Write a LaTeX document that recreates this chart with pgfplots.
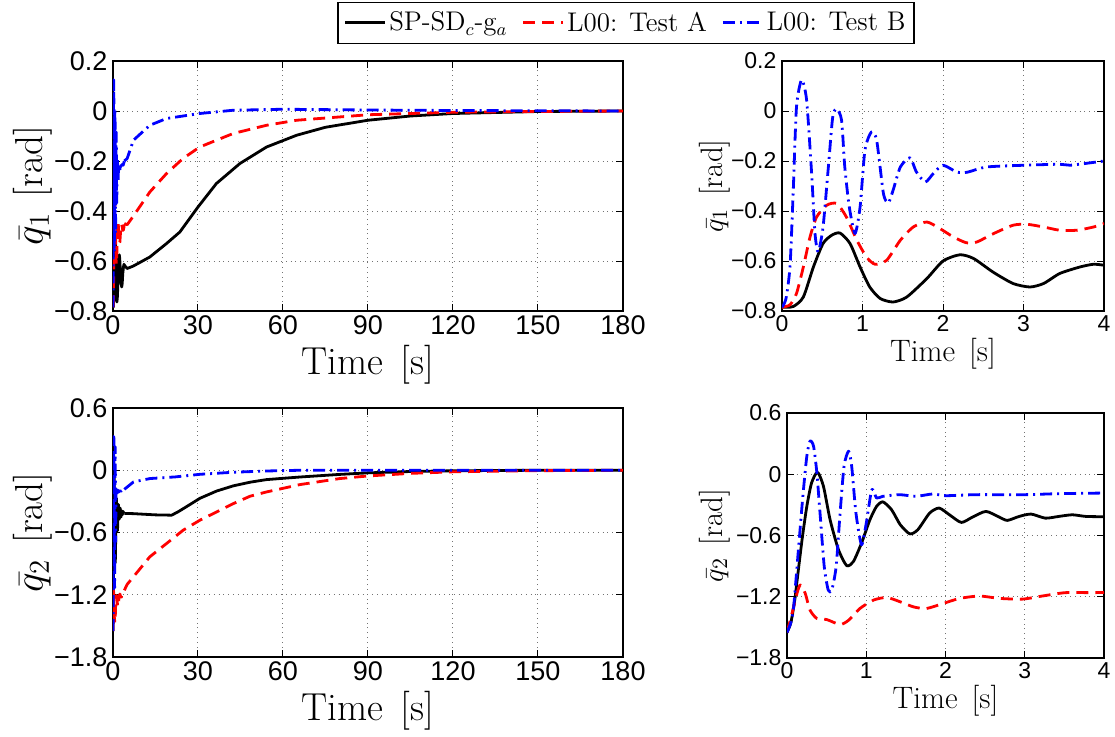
\documentclass[border=0pt]{standalone}
\usepackage{fontspec}
\usepackage{pgfplots}
\pgfplotsset{compat=1.18}
\usepackage{pgfplotstable}
\newfontfamily\arial{Liberation Sans}

% ---------- data: right panels (0-4 s) ----------
\pgfplotstableread{
t v
0 -0.785
0.14 -0.782
0.265 -0.744
0.39 -0.624
0.51 -0.53
0.617 -0.497
0.72 -0.488
0.845 -0.53
0.97 -0.624
1.09 -0.704
1.22 -0.75
1.38 -0.764
1.55 -0.744
1.8 -0.67
2.0 -0.6
2.21 -0.575
2.38 -0.59
2.62 -0.644
2.87 -0.69
3.08 -0.704
3.25 -0.69
3.45 -0.65
3.7 -0.624
3.87 -0.613
4.0 -0.617
}\qAk
\pgfplotstableread{
t v
0 -0.785
0.1 -0.775
0.18 -0.73
0.265 -0.624
0.348 -0.504
0.43 -0.424
0.555 -0.377
0.68 -0.37
0.8 -0.424
0.93 -0.517
1.05 -0.584
1.155 -0.613
1.3 -0.597
1.47 -0.517
1.63 -0.464
1.8 -0.444
1.96 -0.47
2.13 -0.504
2.29 -0.527
2.42 -0.524
2.63 -0.49
2.87 -0.457
3.04 -0.453
3.25 -0.464
3.45 -0.477
3.66 -0.477
3.87 -0.464
4.0 -0.45
}\qAr
\pgfplotstableread{
t v
0 -0.785
0.05 -0.75
0.1 -0.62
0.14 -0.317
0.18 0.016
0.244 0.125
0.306 0.043
0.368 -0.25
0.41 -0.49
0.45 -0.564
0.51 -0.464
0.576 -0.224
0.63 -0.024
0.68 0.009
0.74 -0.037
0.78 -0.224
0.836 -0.384
0.907 -0.49
0.97 -0.384
1.03 -0.157
1.11 -0.084
1.176 -0.117
1.26 -0.33
1.32 -0.368
1.38 -0.317
1.47 -0.224
1.59 -0.187
1.67 -0.244
1.78 -0.284
1.88 -0.25
2.0 -0.217
2.17 -0.244
2.3 -0.245
2.54 -0.224
3.0 -0.217
3.45 -0.213
3.58 -0.217
4.0 -0.2
}\qAb
\pgfplotstableread{
t v
0 -1.55
0.05 -1.45
0.1 -1.22
0.126 -1.05
0.19 -0.64
0.25 -0.315
0.31 -0.085
0.385 0.02
0.46 -0.118
0.544 -0.446
0.65 -0.74
0.753 -0.895
0.837 -0.856
0.94 -0.675
1.046 -0.446
1.13 -0.315
1.21 -0.27
1.32 -0.348
1.43 -0.495
1.55 -0.584
1.65 -0.544
1.8 -0.38
1.92 -0.331
2.05 -0.397
2.2 -0.472
2.34 -0.42
2.51 -0.364
2.68 -0.42
2.78 -0.452
2.93 -0.413
3.08 -0.39
3.26 -0.43
3.43 -0.413
3.6 -0.397
3.77 -0.413
4.0 -0.416
}\qBk
\pgfplotstableread{
t v
0 -1.55
0.063 -1.364
0.126 -1.167
0.168 -1.085
0.23 -1.167
0.29 -1.33
0.377 -1.413
0.5 -1.423
0.67 -1.472
0.777 -1.43
0.92 -1.315
1.09 -1.233
1.26 -1.207
1.43 -1.25
1.6 -1.3
1.76 -1.315
1.97 -1.266
2.18 -1.216
2.43 -1.193
2.68 -1.216
2.97 -1.223
3.22 -1.193
3.51 -1.16
3.85 -1.16
4.0 -1.157
}\qBr
\pgfplotstableread{
t v
0 -1.55
0.05 -1.45
0.084 -1.3
0.147 -0.71
0.2 -0.216
0.25 0.177
0.29 0.325
0.335 0.275
0.377 0.013
0.42 -0.413
0.47 -0.905
0.52 -1.134
0.565 -1.134
0.62 -0.905
0.67 -0.38
0.72 0.08
0.777 0.226
0.816 0.08
0.87 -0.38
0.94 -0.69
1.0 -0.48
1.07 -0.15
1.13 -0.233
1.21 -0.216
1.42 -0.2
1.63 -0.216
1.84 -0.193
2.0 -0.21
2.38 -0.2
3.0 -0.2
3.43 -0.19
4.0 -0.184
}\qBb

% ---------- data: left panels, slow part (t > 4 s) ----------
\pgfplotstableread{
t v
4.0 -0.617
5 -0.63
7.2 -0.62
13 -0.584
18.9 -0.53
23.6 -0.484
30 -0.384
36.5 -0.29
44.8 -0.21
54.2 -0.144
64.8 -0.097
75 -0.065
90 -0.037
105 -0.02
120 -0.01
150 -0.002
180 0
}\lAk
\pgfplotstableread{
t v
4.0 -0.45
5 -0.455
7.2 -0.42
13 -0.324
18.9 -0.25
24.7 -0.19
30.6 -0.144
42.4 -0.09
54.2 -0.057
64.8 -0.037
90 -0.015
120 -0.005
150 -0.002
180 0
}\lAr
\pgfplotstableread{
t v
4.0 -0.2
5 -0.19
7.2 -0.117
13 -0.057
18.9 -0.03
30.6 -0.01
42.4 0.003
60 0.007
90 0.004
120 0.002
180 0
}\lAb
\pgfplotstableread{
t v
4.0 -0.416
7 -0.418
15 -0.43
20.7 -0.433
23 -0.40
26 -0.35
30.7 -0.27
36.6 -0.2
42.5 -0.15
48.4 -0.115
54.2 -0.09
66 -0.065
80 -0.04
90 -0.025
105 -0.012
120 -0.005
150 0
180 0
}\lBk
\pgfplotstableread{
t v
4.0 -1.157
5 -1.10
7.2 -1.027
13 -0.834
18.9 -0.706
24.8 -0.577
30.7 -0.481
36.6 -0.401
42.5 -0.321
48.4 -0.25
54.2 -0.209
66 -0.138
80 -0.08
90 -0.055
105 -0.03
120 -0.015
150 -0.004
180 0
}\lBr
\pgfplotstableread{
t v
4.0 -0.184
7.2 -0.113
13 -0.08
22 -0.064
30.7 -0.039
42.5 -0.019
54.2 -0.007
66 0
180 0
}\lBb

\pgfplotsset{
  sblack/.style={black, line width=1.4pt, solid, line join=round},
  sred/.style={red, line width=1.4pt, dash pattern=on 6pt off 3.5pt, line join=round},
  sblue/.style={blue, line width=1.4pt, dash pattern=on 6pt off 2.5pt on 1pt off 2.5pt, line join=round},
  base/.style={
    scale only axis,
    axis line style={black, line width=0.6pt},
    every tick/.style={black, line width=0.5pt},
    major tick length=3.5pt,
    grid=major,
    major grid style={dotted, black!55, line width=0.5pt},
    /pgf/number format/assume math mode=true,
    xticklabel style={inner sep=2pt},
    yticklabel style={inner sep=2.6pt},
    xlabel style={at={(axis description cs:0.5,0)}, anchor=base, inner sep=0pt},
    ylabel style={anchor=center, inner sep=0pt},
  },
  leftax/.style={base,
    width=255pt, height=125pt,
    xmin=0, xmax=180,
    xtick={0,30,60,90,120,150,180},
    xticklabels={0,30,60,90,120,150,180},
    tick label style={font=\arial\fontsize{13.5}{15}\selectfont},
    label style={font=\fontsize{19.5}{22}\selectfont},
    xlabel={Time\hspace{0.45em}[s]},
  },
  rightax/.style={base,
    xmin=0, xmax=4,
    xtick={0,1,2,3,4},
    xticklabels={0,1,2,3,4},
    tick label style={font=\arial\fontsize{11.5}{13}\selectfont},
    label style={font=\fontsize{15.5}{18}\selectfont},
    xlabel={Time\hspace{0.45em}[s]},
  },
}

\begin{document}
\begin{tikzpicture}
\useasboundingbox (0pt,0pt) rectangle (557.5pt,368pt);

% ---- top left ----
\begin{axis}[leftax,
  at={(56.5pt,212.5pt)}, anchor=south west,
  ymin=-0.8, ymax=0.2,
  ytick={-0.8,-0.6,-0.4,-0.2,0,0.2},
  yticklabels={−0.8,−0.6,−0.4,−0.2,0,0.2},
  ylabel={$\bar{q}_1$\hspace{0.4em}[rad]},
  xlabel style={yshift=-31.5pt},
  ylabel style={at={(axis description cs:-0.157,0.5)}},
  legend columns=3,
  legend cell align=left,
  legend image code/.code={\draw[#1] (0pt,0pt) -- (20pt,0pt);},
  legend style={at={(1.0059,1.068)}, anchor=south, draw=black, line width=0.6pt,
    fill=white, font=\fontsize{13.5}{15}\selectfont,
    inner xsep=3pt, inner ysep=3.5pt,
    nodes={inner sep=1.2pt},
    /tikz/every even column/.append style={column sep=6pt}},
]
\addplot[sblack] table[x=t,y=v] {\qAk};
\addlegendentry{SP-SD$_c$-g$_a$}
\addplot[sred] table[x=t,y=v] {\qAr};
\addlegendentry{L00: Test A}
\addplot[sblue] table[x=t,y=v] {\qAb};
\addlegendentry{L00: Test B}
\addplot[sblack, forget plot] table[x=t,y=v] {\lAk};
\addplot[sred, forget plot] table[x=t,y=v] {\lAr};
\addplot[sblue, forget plot] table[x=t,y=v] {\lAb};
\end{axis}

% ---- top right ----
\begin{axis}[rightax,
  at={(391pt,212.5pt)}, anchor=south west,
  width=161pt, height=125pt,
  ymin=-0.8, ymax=0.2,
  ytick={-0.8,-0.6,-0.4,-0.2,0,0.2},
  yticklabels={−0.8,−0.6,−0.4,−0.2,0,0.2},
  ylabel={$\bar{q}_1$\hspace{0.4em}[rad]},
  xlabel style={yshift=-25pt},
  ylabel style={at={(axis description cs:-0.208,0.5)}},
]
\addplot[sblack, smooth, tension=0.4] table[x=t,y=v] {\qAk};
\addplot[sred, smooth, tension=0.4] table[x=t,y=v] {\qAr};
\addplot[sblue, smooth, tension=0.4] table[x=t,y=v] {\qAb};
\end{axis}

% ---- bottom left ----
\begin{axis}[leftax,
  at={(56.5pt,39.5pt)}, anchor=south west,
  height=124.5pt,
  ymin=-1.8, ymax=0.6,
  ytick={-1.8,-1.2,-0.6,0,0.6},
  yticklabels={−1.8,−1.2,−0.6,0,0.6},
  ylabel={$\bar{q}_2$\hspace{0.4em}[rad]},
  xlabel style={yshift=-31.5pt},
  ylabel style={at={(axis description cs:-0.157,0.5)}},
]
\addplot[sblack] table[x=t,y=v] {\qBk};
\addplot[sred] table[x=t,y=v] {\qBr};
\addplot[sblue] table[x=t,y=v] {\qBb};
\addplot[sblack] table[x=t,y=v] {\lBk};
\addplot[sred] table[x=t,y=v] {\lBr};
\addplot[sblue] table[x=t,y=v] {\lBb};
\end{axis}

% ---- bottom right ----
\begin{axis}[rightax,
  at={(393.5pt,39pt)}, anchor=south west,
  width=158.5pt, height=122.5pt,
  ymin=-1.8, ymax=0.6,
  ytick={-1.8,-1.2,-0.6,0,0.6},
  yticklabels={−1.8,−1.2,−0.6,0,0.6},
  ylabel={$\bar{q}_2$\hspace{0.4em}[rad]},
  xlabel style={yshift=-25pt},
  ylabel style={at={(axis description cs:-0.227,0.5)}},
]
\addplot[sblack, smooth, tension=0.4] table[x=t,y=v] {\qBk};
\addplot[sred, smooth, tension=0.4] table[x=t,y=v] {\qBr};
\addplot[sblue, smooth, tension=0.4] table[x=t,y=v] {\qBb};
\end{axis}
\end{tikzpicture}
\end{document}
